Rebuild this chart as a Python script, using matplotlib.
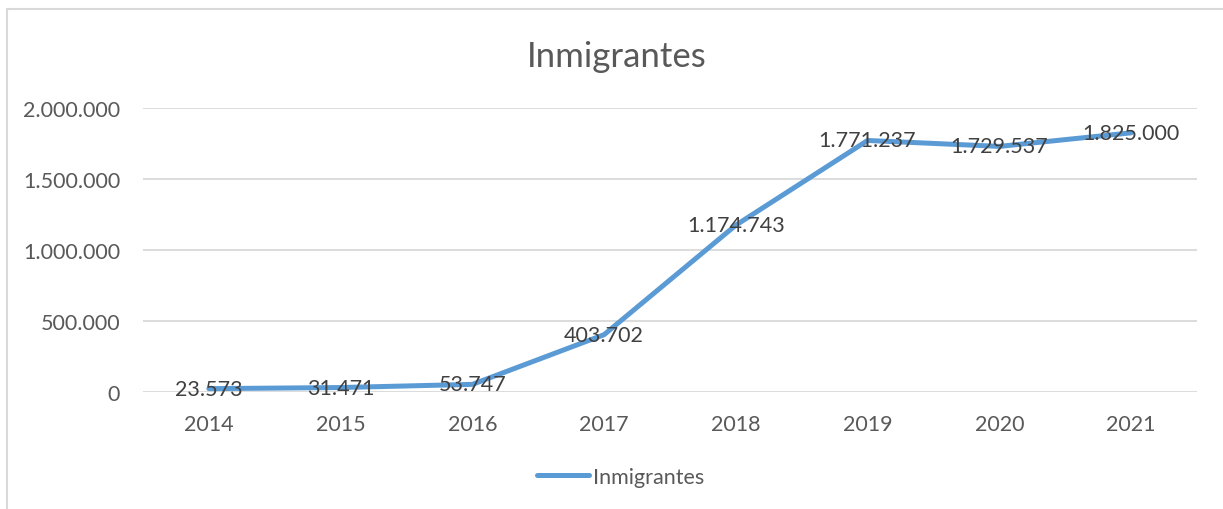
import matplotlib.pyplot as plt
from matplotlib.lines import Line2D
from matplotlib.patches import Rectangle

# datos
years = ["2014", "2015", "2016", "2017", "2018", "2019", "2020", "2021"]
inmigrantes = [23573, 31471, 53747, 403702, 1174743, 1771237, 1729537, 1825000]
y_ticks = [0, 500000, 1000000, 1500000, 2000000]

plt.rcParams['font.family'] = ['Lato', 'DejaVu Sans']

def miles(v):
    return f"{v:,.0f}".replace(",", ".")

fig = plt.figure(figsize=(12.23, 5.10), dpi=100)
ax = fig.add_axes([0.1169, 0.2294, 0.8618, 0.5569])

# marco del gráfico
fig.patches.append(Rectangle((7 / 1223, -0.05), 1.2, 1 - 10 / 510 + 0.05,
                             transform=fig.transFigure, fill=False,
                             edgecolor='#D9D9D9', linewidth=1.5))

x = list(range(len(years)))
ax.plot(x, inmigrantes, color='#5B9BD5', linewidth=3.6,
        solid_capstyle='round', solid_joinstyle='round', zorder=3)

for xi, v in zip(x, inmigrantes):
    ax.text(xi, v, miles(v), ha='center', va='center', fontsize=15.5,
            color='#404040', zorder=4)

ax.set_xlim(-0.5, len(years) - 0.5)
ax.set_ylim(0, 2000000)
ax.set_xticks(x)
ax.set_xticklabels(years)
ax.set_yticks(y_ticks)
ax.set_yticklabels([miles(t) for t in y_ticks])
ax.tick_params(length=0, labelsize=15.5, labelcolor='#595959')
ax.tick_params(axis='x', pad=16)
ax.tick_params(axis='y', pad=16.5)
ax.grid(axis='y', color='#D9D9D9', linewidth=1.3)
ax.set_axisbelow(True)
for s in ax.spines.values():
    s.set_visible(False)

fig.text(617 / 1223, 1 - 57 / 510, "Inmigrantes", ha='center', va='center',
         fontsize=25, color='#595959')

leg = fig.legend(handles=[Line2D([], [], color='#5B9BD5', linewidth=3.6,
                                 solid_capstyle='round')],
                 labels=["Inmigrantes"], loc='center',
                 bbox_to_anchor=(621 / 1223, 1 - 478 / 510), frameon=False,
                 fontsize=15.5, handlelength=2.4, handletextpad=0.2)
for t in leg.get_texts():
    t.set_color('#595959')

fig.savefig("out.png", dpi=100)
